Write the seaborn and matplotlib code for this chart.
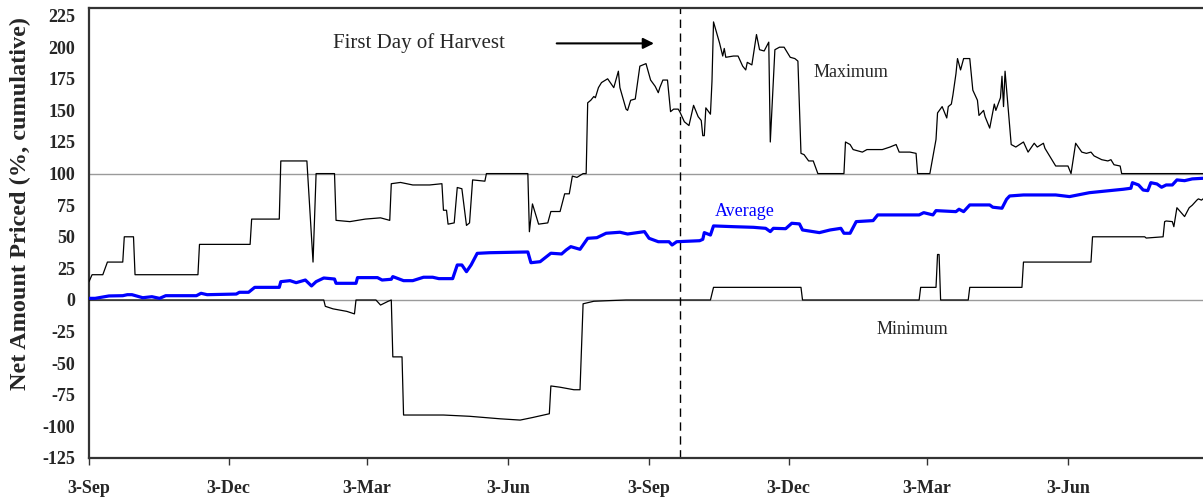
import pandas as pd
import matplotlib
matplotlib.use("Agg")
import matplotlib.pyplot as plt
import seaborn as sns

# day offsets from 3-Sep (first year) and net amount priced (%)
max_days = [0, 2, 9, 12, 22, 23, 29, 30, 71, 72, 105, 106, 124, 125, 142, 146, 148, 160, 161,
            170, 180, 190, 196, 197, 203, 211, 222, 230, 231, 233, 234, 238, 240, 243, 246, 248,
            250, 258, 259, 286, 287, 289, 293, 299, 301, 307, 310, 313, 315, 318, 322, 324, 325,
            327, 329, 330, 332, 334, 338, 342, 345, 346, 350, 351, 353, 356, 359, 363, 366, 369,
            371, 372, 374, 377, 379, 381, 384, 385, 388, 391, 394, 397, 399, 400, 401, 402, 405,
            406, 407, 411, 413, 414, 415, 420, 423, 426, 428, 429, 432, 435, 437, 440, 443, 444,
            447, 450, 453, 457, 460, 462, 464, 466, 469, 472, 475, 492, 493, 496, 498, 504, 507,
            513, 517, 522, 526, 528, 535, 539, 540, 548, 552, 553, 556, 559, 560, 562, 563, 565,
            566, 568, 570, 574, 576, 579, 580, 583, 584, 587, 590, 591, 594, 595, 596, 597, 601,
            604, 609, 612, 616, 618, 622, 623, 628, 630, 638, 640, 643, 647, 650, 653, 655, 660,
            664, 666, 668, 672, 673, 726]
max_vals = [14.5, 20, 20, 30, 30, 50, 50, 20, 20, 44, 44, 64, 64, 110, 110, 30, 100, 100, 63,
            62, 64, 65, 63, 92, 93, 91, 91, 92, 71, 71, 60, 61, 89, 88, 59, 61,
            95, 94, 100, 100, 54, 76, 60, 61, 70, 70, 84, 84, 98, 97, 100, 100, 156,
            158, 161, 160, 168, 172, 175, 168, 181, 168, 151, 150, 158, 159, 185, 187, 174, 169,
            164, 168, 174, 174, 149, 151, 151, 149, 141, 138, 154, 145, 142, 130, 130, 152, 147,
            173, 220, 203, 193, 199, 192, 193, 193, 185, 182, 188, 186, 210, 198, 197, 204, 125,
            198, 200, 200, 192, 191, 189, 116, 115, 110, 110, 100, 100, 125, 123, 119, 117, 119,
            119, 119, 121, 123, 117, 117, 116, 100, 100, 127, 148, 153, 144, 153, 155, 162, 179,
            191, 182, 191, 191, 166, 158, 146, 150, 145, 136, 155, 150, 160, 177, 153, 181, 123,
            121, 125, 117, 124, 121, 124, 120, 110, 106, 106, 100, 124, 117, 116, 117, 114, 111,
            110, 111, 107, 106, 100, 100]

avg_days = [0, 4, 13, 22, 25, 28, 35, 41, 46, 50, 70, 73, 77, 96, 98, 104, 108, 124, 125, 131,
            135, 141, 145, 148, 153, 160, 161, 174, 175, 188, 191, 197, 198, 205, 211, 218, 224,
            228, 237, 240, 243, 246, 249, 253, 261, 286, 288, 294, 301, 308, 311, 314, 320, 325,
            331, 337, 346, 351, 362, 365, 371, 378, 380, 383, 398, 400, 401, 405, 407, 420, 433,
            441, 444, 446, 454, 458, 463, 465, 476, 483, 490, 492, 496, 500, 511, 514, 541, 544,
            550, 552, 565, 567, 570, 574, 587, 589, 595, 598, 600, 609, 630, 639, 652, 665, 674,
            679, 680, 684, 687, 690, 692, 696, 699, 702, 706, 709, 714, 719, 726]
avg_vals = [1.3, 1.3, 3.2, 3.4, 4.2, 4.2, 1.8, 2.6, 1.3, 3.4, 3.4, 5.3, 4.2, 4.7, 6.1, 6.1, 10, 10,
            14.5, 15.3, 13.7, 15.8, 11.1, 14.5, 17.4, 16.6, 13.2, 13.2, 17.7, 17.7, 15.8, 16.4,
            18.5, 15.3, 15.3, 18, 18, 16.9, 16.9, 27.7, 27.7, 22.4, 27.7, 36.9, 37.4, 38, 29.5,
            30.3, 37, 36.4, 39.6, 42.2, 40.1, 48.8, 49.3, 52.8, 53.6, 52.2, 54.1, 48.8, 46.1,
            46.1, 43.5, 46.1, 46.9, 48, 53.3, 51.4, 58.6, 58, 57.5, 56.7, 54.1, 56.7, 56.4, 60.7,
            60.2, 55.4, 53.3, 55.4, 56.7, 52.8, 52.8, 62, 62.8, 67.3, 67.3, 69.1, 67.3, 70.7,
            69.9, 71.8, 69.9, 75.2, 75.2, 73.4, 72.6, 79.7, 82.3, 83.1, 83.1, 81.8, 84.9, 86.5,
            87.6, 88.4, 92.8, 91, 87, 86.5, 92.8, 91.8, 89.2, 91, 91, 95, 94.4, 95.8, 96.3]

min_days = [0, 153, 154, 159, 168, 173, 174, 187, 190, 195, 197, 198, 204, 205, 231, 248, 268,
            281, 289, 300, 301, 307, 316, 320, 322, 329, 339, 350, 405, 407, 464, 465, 541, 542,
            552, 553, 554, 555, 573, 574, 608, 609, 653, 654, 688, 689, 700, 701, 702, 706, 707,
            709, 714, 717, 719, 722, 723, 725, 726]
min_vals = [0, 0, -5, -7, -9, -11, 0, 0, -4, -1, 0, -45, -45, -91, -91, -92, -94,
            -95, -93, -90, -68, -69, -71, -71, -3, -1, -0.5, 0, 0, 10, 10, 0, 0, 10,
            10, 36, 36, 0, 0, 10, 10, 30, 30, 50, 50, 49, 50, 62, 62.5, 62, 58,
            73, 66, 73, 75, 79, 80, 79, 80]

tick_days = [0, 91, 181, 273, 365, 456, 546, 638]
tick_labels = ["3-Sep", "3-Dec", "3-Mar", "3-Jun", "3-Sep", "3-Dec", "3-Mar", "3-Jun"]
harvest_day = 385

start = pd.Timestamp("2001-09-03")


def to_dates(days):
    return start + pd.to_timedelta(days, unit="D")


df_max = pd.DataFrame({"date": to_dates(max_days), "value": max_vals})
df_avg = pd.DataFrame({"date": to_dates(avg_days), "value": avg_vals})
df_min = pd.DataFrame({"date": to_dates(min_days), "value": min_vals})

sns.set_theme(style="white")
plt.rcParams["font.family"] = ["Liberation Serif", "DejaVu Serif"]
plt.rcParams["axes.unicode_minus"] = False

fig = plt.figure(figsize=(12.03, 5.0), dpi=100)
ax = fig.add_axes([89 / 1203, 42 / 500, 1 - 89 / 1203, 450 / 500])

ax.axhline(0, color="#9a9a9a", lw=1.0, zorder=1)
ax.axhline(100, color="#9a9a9a", lw=1.0, zorder=1)

sns.lineplot(data=df_max, x="date", y="value", estimator=None, sort=False,
             color="black", lw=0.9, ax=ax, zorder=3)
sns.lineplot(data=df_min, x="date", y="value", estimator=None, sort=False,
             color="black", lw=0.9, ax=ax, zorder=3)
sns.lineplot(data=df_avg, x="date", y="value", estimator=None, sort=False,
             color="#0000ff", lw=2.3, ax=ax, zorder=4)

ax.axvline(to_dates([harvest_day])[0], color="black", lw=1.0, ls=(0, (6, 4)), zorder=2)

ax.set_xlim(start, to_dates([726])[0])
ax.set_ylim(-125, 231)
ax.set_yticks(range(-125, 226, 25))
ax.set_xticks(to_dates(tick_days))
ax.set_xticklabels(tick_labels)

for lab in ax.get_xticklabels() + ax.get_yticklabels():
    lab.set_fontweight("bold")
    lab.set_fontsize(13)
ax.tick_params(axis="x", direction="out", length=5, width=1, color="#333333", pad=11, bottom=True)
ax.tick_params(axis="y", length=0, pad=10)

ax.set_xlabel("")
ax.set_ylabel("Net Amount Priced (%, cumulative)", fontsize=17.5, fontweight="bold")
ax.yaxis.set_label_coords(-0.052, 0.565)

for side in ["left", "bottom", "top"]:
    ax.spines[side].set_color("#333333")
    ax.spines[side].set_linewidth(1.6)
ax.spines["right"].set_visible(False)

ax.text(to_dates([159])[0], 203, "First Day of Harvest", fontsize=15, va="center", ha="left")
ax.annotate("", xy=(to_dates([370])[0], 203), xytext=(to_dates([303])[0], 203),
            arrowprops=dict(arrowstyle="-|>", color="black", lw=1.5, mutation_scale=16))
ax.text(to_dates([472])[0], 180, "Maximum", fontsize=13, va="center", ha="left")
ax.text(to_dates([408])[0], 70, "Average", fontsize=13, va="center", ha="left", color="#0000ff")
ax.text(to_dates([513])[0], -23, "Minimum", fontsize=13, va="center", ha="left")

fig.savefig("out.png", dpi=100)
